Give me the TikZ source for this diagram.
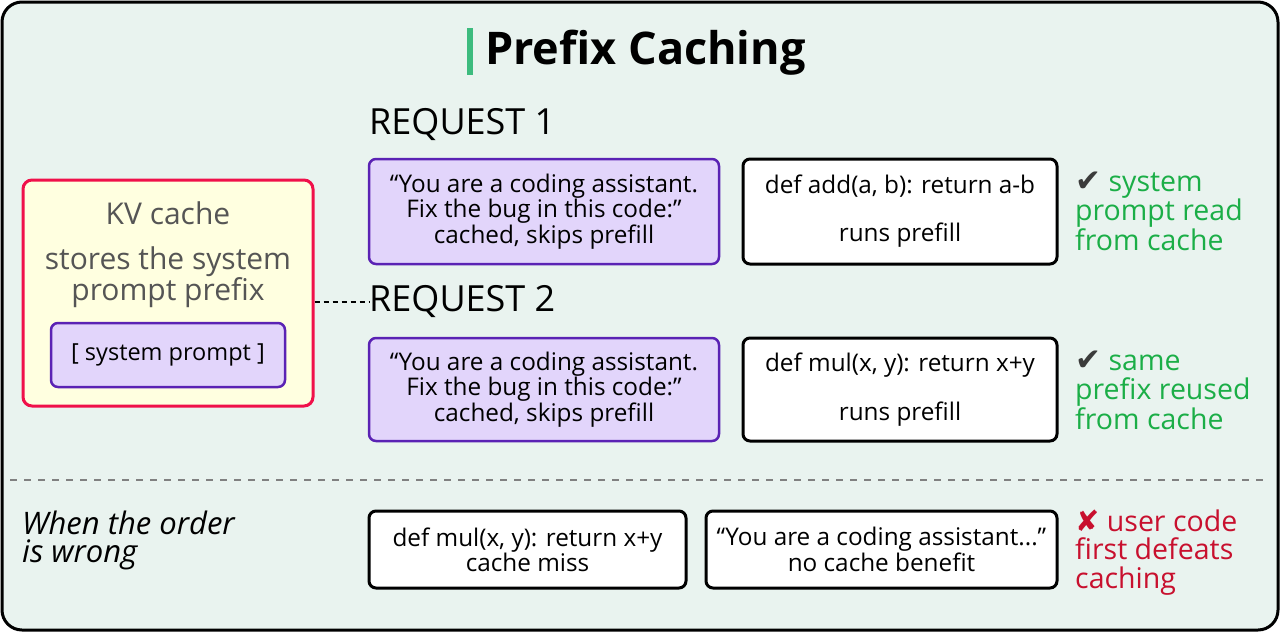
\documentclass[tikz,border=0pt]{standalone}
\usepackage{fontspec}
\setmainfont{Open Sans}
\newfontfamily\symfont{DejaVu Sans}
\usetikzlibrary{calc}
\definecolor{bgmint}{HTML}{E9F3EF}
\definecolor{lavfill}{HTML}{E2D5FB}
\definecolor{lavline}{HTML}{5A22B4}
\definecolor{kvline}{HTML}{F0104A}
\definecolor{kvfill}{HTML}{FFFFE0}
\definecolor{okgreen}{HTML}{1BAE47}
\definecolor{barGreen}{HTML}{3DBB7E}
\definecolor{badred}{HTML}{C8102E}
\definecolor{softgray}{HTML}{555555}
\tikzset{
  prefixbox/.style={draw=lavline, fill=lavfill, line width=2.5pt, rounded corners=7pt, align=center, inner sep=0pt},
  codebox/.style={draw=black, fill=white, line width=3pt, rounded corners=7pt, align=center, inner sep=0pt},
  boxtext/.style={font=\fontsize{24.3}{23}\selectfont},
  sidenote/.style={anchor=base west, align=left, inner sep=0pt, font=\fontsize{28.5}{28.5}\selectfont},
  reqlabel/.style={anchor=west, inner sep=0pt, font=\fontsize{36}{40}\selectfont}
}
\begin{document}
\begin{tikzpicture}[x=1pt, y=-1pt]
  %%%%% START %%%%%
  \useasboundingbox (0,0) rectangle (1280,632);
  \draw[fill=bgmint, line width=3pt, rounded corners=20pt] (2,2) rectangle (1278,630);

  % title
  \fill[barGreen] (467,28) rectangle (473,75);
  \node[anchor=west, inner sep=0pt, font=\fontsize{45}{50}\selectfont\bfseries] (title) at (485,53) {Prefix Caching};

  % kv cache
  \node[draw=kvline, fill=kvfill, line width=3pt, rounded corners=9pt, minimum width=290pt, minimum height=226pt] (kv) at (168,293) {};
  \node[font=\fontsize{30}{28}\selectfont, text=softgray] (kvtitle) at (168,213) {KV cache};
  \node[font=\fontsize{30}{28}\selectfont, text=softgray, align=center] (kvdesc) at (168,277) {stores the system\\prompt prefix};
  \node[prefixbox, minimum width=234pt, minimum height=64pt, font=\fontsize{23.5}{23}\selectfont] (sysprompt) at (168,355) {[ system prompt ]};

  % request 1
  \node[reqlabel] (req1) at (369,125) {REQUEST 1};
  \node[prefixbox, minimum width=350pt, minimum height=105pt, boxtext] (pre1) at (544,211.5)
    {“You are a coding assistant.\\Fix the bug in this code:”\\cached, skips prefill};
  \node[codebox, minimum width=314pt, minimum height=105pt, boxtext] (code1) at (900,211.5)
    {def add(a, b): return a-b\\[25pt]runs prefill};
  \node[sidenote, text=okgreen] (note1) at (1075,250)
    {{\symfont\color{softgray!70!black}\fontsize{31}{28}\selectfont ✔} system\\prompt read\\from cache};

  % request 2
  \node[reqlabel] (req2) at (369,302) {REQUEST 2};
  \node[prefixbox, minimum width=350pt, minimum height=103pt, boxtext] (pre2) at (544,389.5)
    {“You are a coding assistant.\\Fix the bug in this code:”\\cached, skips prefill};
  \node[codebox, minimum width=314pt, minimum height=103pt, boxtext] (code2) at (900,389.5)
    {def mul(x, y): return x+y\\[23pt]runs prefill};
  \node[sidenote, text=okgreen] (note2) at (1075,429)
    {{\symfont\color{softgray!70!black}\fontsize{31}{28}\selectfont ✔} same\\prefix reused\\from cache};

  \draw[line width=2pt, dash pattern=on 5pt off 4pt] (kv.east |- req2.west) -- (req2.west);

  % wrong order
  \draw[gray, line width=2pt, dash pattern=on 7pt off 7pt] (10,480) -- (1270,480);
  \node[sidenote, font=\fontsize{31}{28}\selectfont\itshape] (wrong) at (22,562) {When the order\\is wrong};
  \node[codebox, minimum width=317pt, minimum height=77pt, boxtext] (code3) at (527.5,549.5)
    {def mul(x, y): return x+y\\cache miss};
  \node[codebox, minimum width=351pt, minimum height=77pt, boxtext] (pre3) at (881.5,549.5)
    {“You are a coding assistant...”\\no cache benefit};
  \node[sidenote, text=badred] (note3) at (1075,588)
    {{\symfont\fontsize{29}{28}\selectfont ✘} user code\\first defeats\\caching};
  %%%%% END %%%%%
\end{tikzpicture}
\end{document}
